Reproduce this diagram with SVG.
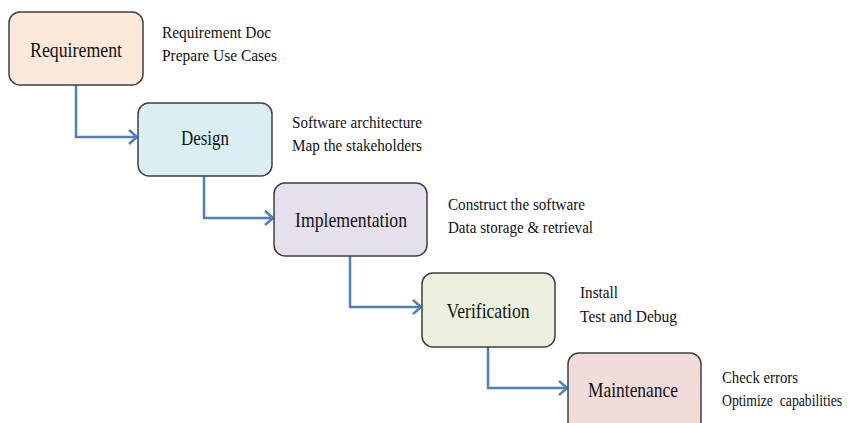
<svg xmlns="http://www.w3.org/2000/svg" width="852" height="423" viewBox="0 0 852 423">
<style>
.box{stroke:#3f3f3f;stroke-width:1.5}
.lbl{font-family:"Liberation Serif","Times New Roman",serif;font-size:22px;fill:#111;text-anchor:middle}
.note{font-family:"Liberation Serif","Times New Roman",serif;font-size:16.5px;fill:#111;white-space:pre}
.conn{fill:none;stroke:#4f81bd;stroke-width:2.5}
</style>
<defs>
<marker id="arr" markerUnits="userSpaceOnUse" markerWidth="14" markerHeight="18" refX="11" refY="9" orient="auto">
<path d="M3,2 L11,9 L3,16" fill="none" stroke="#4f81bd" stroke-width="2.5"/>
</marker>
</defs>
<rect width="852" height="423" fill="#ffffff"/>
<g id="connectors">
<path class="conn" d="M76,85 V137 H137" marker-end="url(#arr)"/>
<path class="conn" d="M204,176 V218 H273" marker-end="url(#arr)"/>
<path class="conn" d="M350,256 V307 H421" marker-end="url(#arr)"/>
<path class="conn" d="M488,347 V388 H567" marker-end="url(#arr)"/>
</g>
<g id="requirement">
<rect class="box" x="9" y="12" width="134" height="73" rx="11" fill="#fde9d9"/>
<text class="lbl" x="76" y="57" textLength="92" lengthAdjust="spacingAndGlyphs">Requirement</text>
<text class="note" x="162" y="38" textLength="109" lengthAdjust="spacingAndGlyphs">Requirement Doc</text>
<text class="note" x="162" y="61" textLength="115" lengthAdjust="spacingAndGlyphs">Prepare Use Cases</text>
</g>
<g id="design">
<rect class="box" x="138" y="103" width="134" height="73" rx="11" fill="#daeef3"/>
<text class="lbl" x="205" y="145" textLength="48" lengthAdjust="spacingAndGlyphs">Design</text>
<text class="note" x="292" y="128" textLength="130" lengthAdjust="spacingAndGlyphs">Software architecture</text>
<text class="note" x="292" y="151" textLength="130" lengthAdjust="spacingAndGlyphs">Map the stakeholders</text>
</g>
<g id="implementation">
<rect class="box" x="274" y="183" width="153" height="73" rx="11" fill="#e5e0ec"/>
<text class="lbl" x="351" y="227" textLength="112" lengthAdjust="spacingAndGlyphs">Implementation</text>
<text class="note" x="448" y="210" textLength="137" lengthAdjust="spacingAndGlyphs">Construct the software</text>
<text class="note" x="448" y="233" textLength="145" lengthAdjust="spacingAndGlyphs">Data storage &amp; retrieval</text>
</g>
<g id="verification">
<rect class="box" x="422" y="273" width="133" height="74" rx="11" fill="#ebf1de"/>
<text class="lbl" x="488" y="318" textLength="83" lengthAdjust="spacingAndGlyphs">Verification</text>
<text class="note" x="580" y="298" textLength="38" lengthAdjust="spacingAndGlyphs">Install</text>
<text class="note" x="580" y="322" textLength="97" lengthAdjust="spacingAndGlyphs">Test and Debug</text>
</g>
<g id="maintenance">
<rect class="box" x="568" y="353" width="133" height="80" rx="11" fill="#f2dcdb"/>
<text class="lbl" x="633" y="397" textLength="90" lengthAdjust="spacingAndGlyphs">Maintenance</text>
<text class="note" x="722" y="383" textLength="76" lengthAdjust="spacingAndGlyphs">Check errors</text>
<text class="note" transform="translate(722,406) scale(0.83,1)" x="0" y="0">Optimize  capabilities</text>
</g>
</svg>
